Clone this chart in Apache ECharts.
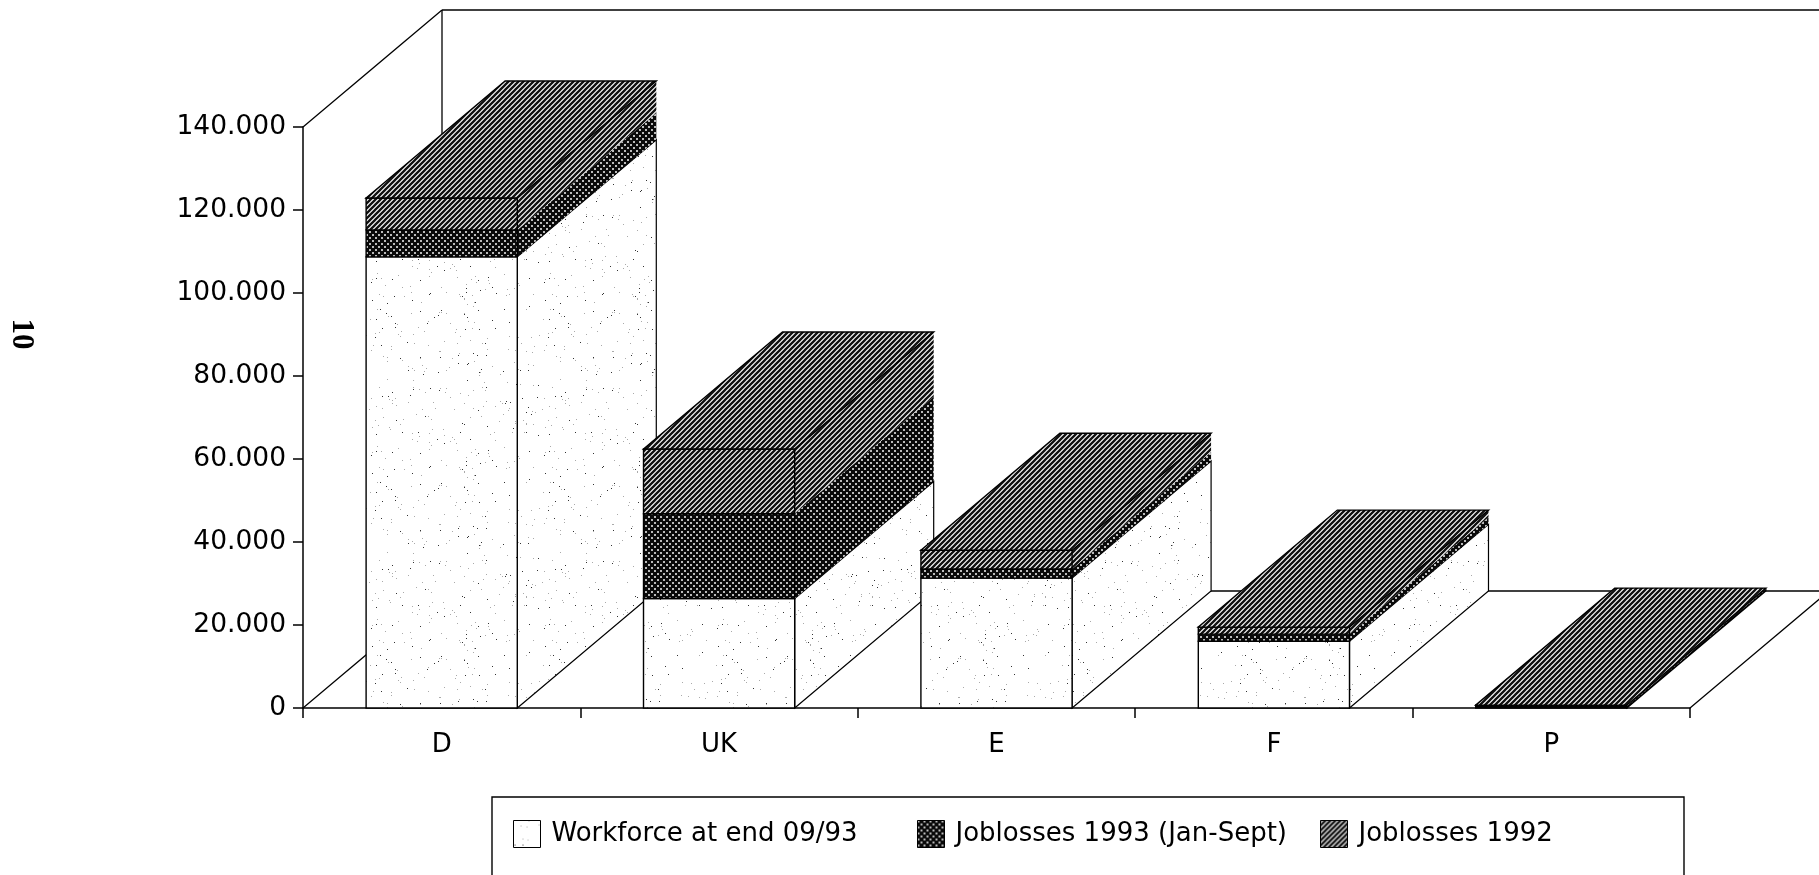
<!DOCTYPE html>
<html>
<head>
<meta charset="utf-8">
<style>
  html, body { margin: 0; padding: 0; background: #fff; }
  #chart { width: 1819px; height: 875px; }
</style>
<script src="https://cdn.jsdelivr.net/npm/echarts@6/dist/echarts.min.js"></script>
</head>
<body>
<div id="chart"></div>
<script>
const countries = ["D", "UK", "E", "F", "P"];
const workforce = [108700, 26400, 31300, 16100, 300];
const joblosses93 = [6500, 20400, 2200, 1700, 100];
const joblosses92 = [7700, 15600, 4500, 1700, 300];
const yTicks = { min: 0, max: 140000, interval: 20000 };

const NAME_WORKFORCE = "Workforce at end 09/93";
const NAME_93 = "Joblosses 1993 (Jan-Sept)";
const NAME_92 = "Joblosses 1992";

// how far the back of the box sits from the front, in pixels
const DEPTH_X = 139;
const DEPTH_Y = 117;
const BAR_RATIO = 0.545;
const FONT = "DejaVu Sans";

function makeTile(size, draw) {
  const c = document.createElement("canvas");
  c.width = size;
  c.height = size;
  draw(c.getContext("2d"));
  return { image: c, repeat: "repeat" };
}

// sparse grey dots on white, a fixed speckle and nothing to do with the data
const stipple = makeTile(173, ctx => {
  ctx.fillStyle = "#fff";
  ctx.fillRect(0, 0, 173, 173);
  let seed = 17;
  const next = () => {
    seed = (Math.imul(seed, 1103515245) + 12345) & 0x7fffffff;
    return seed >> 9;
  };
  for (let i = 0; i < 300; i++) {
    const x = next() % 173;
    const y = next() % 173;
    ctx.fillStyle = i % 3 === 0 ? "#333" : "#aaa";
    ctx.fillRect(x, y, 1, 1);
  }
});

// dense dark dots
const crossDots = makeTile(6, ctx => {
  ctx.fillStyle = "#0a0a0a";
  ctx.fillRect(0, 0, 6, 6);
  ctx.fillStyle = "#bbb";
  ctx.fillRect(0, 0, 2, 2);
  ctx.fillRect(3, 3, 2, 2);
});

// rising diagonal stripes
const hatch = makeTile(5, ctx => {
  ctx.fillStyle = "#fff";
  ctx.fillRect(0, 0, 5, 5);
  ctx.strokeStyle = "#111";
  ctx.lineWidth = 2.3;
  ctx.beginPath();
  ctx.moveTo(-5, 5);
  ctx.lineTo(5, -5);
  ctx.moveTo(0, 5);
  ctx.lineTo(5, 0);
  ctx.moveTo(0, 10);
  ctx.lineTo(10, 0);
  ctx.stroke();
});

function stackData(values, below) {
  return values.map((v, i) => {
    const base = below.reduce((sum, arr) => sum + arr[i], 0);
    return [i, base, base + v];
  });
}

function boxSeries(name, pattern, level, values, below, hasTop) {
  return {
    name: name,
    type: "custom",
    coordinateSystem: "cartesian2d",
    itemStyle: { color: pattern, borderColor: "#000", borderWidth: 1 },
    encode: { x: 0, y: [1, 2] },
    data: stackData(values, below),
    renderItem: function (params, api) {
      const i = api.value(0);
      const low = api.coord([i, api.value(1)]);
      const high = api.coord([i, api.value(2)]);
      const w = api.size([1, 0])[0] * BAR_RATIO;
      const x0 = low[0] - w / 2;
      const x1 = low[0] + w / 2;
      const z2 = 10 + i * 10 + level;
      const children = [
        {
          type: "polygon",
          z2: z2,
          shape: { points: [[x1, low[1]], [x1 + DEPTH_X, low[1] - DEPTH_Y], [x1 + DEPTH_X, high[1] - DEPTH_Y], [x1, high[1]]] },
          style: { fill: pattern, stroke: level === 0 ? "#000" : null, lineWidth: 1.2 }
        },
        {
          type: "rect",
          z2: z2 + 1,
          shape: { x: x0, y: high[1], width: w, height: low[1] - high[1] },
          style: { fill: pattern, stroke: "#000", lineWidth: 1.4 }
        }
      ];
      if (hasTop) {
        children.push({
          type: "polygon",
          z2: z2 + 2,
          shape: { points: [[x0, high[1]], [x0 + DEPTH_X, high[1] - DEPTH_Y], [x1 + DEPTH_X, high[1] - DEPTH_Y], [x1, high[1]]] },
          style: { fill: pattern, stroke: "#000", lineWidth: 1.4 }
        });
      }
      return { type: "group", children: children };
    }
  };
}

// back wall and floor outlines
const wallSeries = {
  type: "custom",
  coordinateSystem: "cartesian2d",
  silent: true,
  data: [[0, 0, 0]],
  encode: { x: 0, y: 1 },
  renderItem: function (params) {
    const g = params.coordSys;
    const left = g.x;
    const right = g.x + g.width;
    const top = g.y;
    const bottom = g.y + g.height;
    const line = (x1, y1, x2, y2) => ({
      type: "line",
      z2: 1,
      shape: { x1, y1, x2, y2 },
      style: { stroke: "#000", lineWidth: 1.3, fill: null }
    });
    return {
      type: "group",
      children: [
        line(left, top, left + DEPTH_X, top - DEPTH_Y),
        line(left + DEPTH_X, top - DEPTH_Y, right + DEPTH_X, top - DEPTH_Y),
        line(left + DEPTH_X, top - DEPTH_Y, left + DEPTH_X, bottom - DEPTH_Y),
        line(left + DEPTH_X, bottom - DEPTH_Y, right + DEPTH_X, bottom - DEPTH_Y),
        line(left, bottom, left + DEPTH_X, bottom - DEPTH_Y),
        line(right, bottom, right + DEPTH_X, bottom - DEPTH_Y)
      ]
    };
  }
};

function legendAt(name, left) {
  return {
    data: [name],
    left: left,
    top: 820,
    padding: 0,
    orient: "horizontal",
    icon: "rect",
    itemWidth: 27,
    itemHeight: 27,
    selectedMode: false,
    itemStyle: { borderColor: "#000", borderWidth: 1 },
    textStyle: { fontFamily: FONT, fontSize: 26, color: "#000", padding: [5, 0, 0, 6] }
  };
}

const chart = echarts.init(document.getElementById("chart"), null, { renderer: "canvas" });

chart.setOption({
  animation: false,
  backgroundColor: "#fff",
  grid: { left: 303, right: 129, top: 127, bottom: 167 },
  xAxis: {
    type: "category",
    data: countries,
    boundaryGap: true,
    axisLine: { lineStyle: { color: "#000", width: 1.5 } },
    axisTick: { show: true, length: 10, lineStyle: { color: "#000", width: 1.5 } },
    axisLabel: { fontFamily: FONT, fontSize: 26, color: "#000", margin: 24 }
  },
  yAxis: {
    type: "value",
    min: yTicks.min,
    max: yTicks.max,
    interval: yTicks.interval,
    splitLine: { show: false },
    axisLine: { show: true, lineStyle: { color: "#000", width: 1.5 } },
    axisTick: { show: true, length: 10, lineStyle: { color: "#000", width: 1.5 } },
    axisLabel: {
      fontFamily: FONT,
      fontSize: 26.5,
      color: "#000",
      margin: 17,
      formatter: v => String(v).replace(/\B(?=(\d{3})+$)/g, ".")
    }
  },
  legend: [
    legendAt(NAME_WORKFORCE, 513),
    legendAt(NAME_93, 917),
    legendAt(NAME_92, 1320)
  ],
  graphic: [
    {
      type: "rect",
      shape: { x: 492, y: 797, width: 1192, height: 100 },
      style: { fill: null, stroke: "#000", lineWidth: 1.4 }
    },
    {
      type: "text",
      x: 21,
      y: 334,
      rotation: -Math.PI / 2,
      style: {
        text: "10",
        font: "bold 31px 'Liberation Serif'",
        fill: "#000",
        align: "center",
        verticalAlign: "middle"
      }
    }
  ],
  series: [
    wallSeries,
    boxSeries(NAME_WORKFORCE, stipple, 0, workforce, [], false),
    boxSeries(NAME_93, crossDots, 3, joblosses93, [workforce], false),
    boxSeries(NAME_92, hatch, 6, joblosses92, [workforce, joblosses93], true)
  ]
});
</script>
</body>
</html>
